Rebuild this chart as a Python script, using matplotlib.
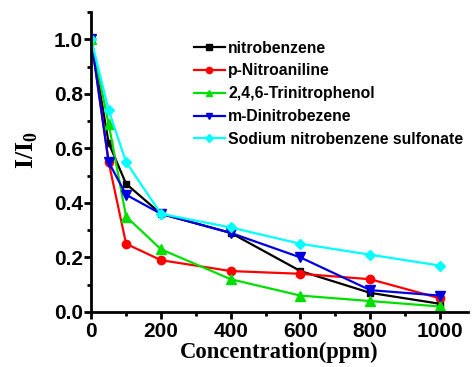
import matplotlib
matplotlib.use("Agg")
import matplotlib.pyplot as plt
from matplotlib.ticker import MultipleLocator

plt.rcParams['mathtext.fontset'] = 'custom'
plt.rcParams['mathtext.rm'] = 'Liberation Serif:bold'
plt.rcParams['mathtext.bf'] = 'Liberation Serif:bold'

conc = [0, 50, 100, 200, 400, 600, 800, 1000]
nitrobenzene = [1.0, 0.62, 0.47, 0.36, 0.29, 0.15, 0.07, 0.03]
p_nitroaniline = [1.0, 0.55, 0.25, 0.19, 0.15, 0.14, 0.12, 0.05]
tnp = [1.0, 0.69, 0.35, 0.23, 0.12, 0.06, 0.04, 0.02]
m_dnb = [1.0, 0.55, 0.43, 0.36, 0.29, 0.20, 0.08, 0.06]
sodium = [1.0, 0.74, 0.55, 0.36, 0.31, 0.25, 0.21, 0.17]

labels = ["nitrobenzene", "p-Nitroaniline", "2,4,6-Trinitrophenol",
          "m-Dinitrobezene", "Sodium nitrobenzene sulfonate"]
series = [nitrobenzene, p_nitroaniline, tnp, m_dnb, sodium]
colors = ["black", "red", "#00e000", "#0000e0", "cyan"]
markers = ["s", "o", "^", "v", "D"]
msizes = [5, 6, 6.5, 6.5, 5]

fig = plt.figure(figsize=(4.75, 3.67), dpi=100)
ax = fig.add_axes([0.192, 0.150, 0.793, 0.817])

for y, lab, c, m, ms in zip(series, labels, colors, markers, msizes):
    ax.plot(conc, y, color=c, marker=m, markersize=ms, linewidth=1.6, label=lab)

ax.set_xlim(0, 1080)
ax.set_ylim(0, 1.1)
ax.xaxis.set_major_locator(MultipleLocator(200))
ax.xaxis.set_minor_locator(MultipleLocator(100))
ax.yaxis.set_minor_locator(MultipleLocator(0.1))
ax.set_yticks([0, 0.2, 0.4, 0.6, 0.8, 1.0])
ax.set_yticklabels(["0.0", "0.2", "0.4", "0.6", "0.8", "1.0"])

for s in ["top", "right"]:
    ax.spines[s].set_visible(False)
for s in ["left", "bottom"]:
    ax.spines[s].set_linewidth(2)

ax.tick_params(which="major", direction="out", length=5, width=2)
ax.tick_params(which="minor", direction="out", length=3, width=2)
for lbl in ax.get_xticklabels() + ax.get_yticklabels():
    lbl.set_fontfamily("Liberation Sans")
    lbl.set_fontweight("bold")
    lbl.set_fontsize(15)
ax.tick_params(axis="x", pad=2)
ax.tick_params(axis="y", pad=1)

ax.set_xlabel("Concentration(ppm)", fontfamily="Liberation Serif", fontweight="bold",
              fontsize=16.3, labelpad=1)
ax.set_ylabel(r"I/I$_\mathbf{0}$", fontfamily="Liberation Serif", fontweight="bold",
              fontsize=18.5)
ax.yaxis.set_label_coords(-0.135, 0.54)

leg = ax.legend(loc="upper left", bbox_to_anchor=(0.272, 0.905), frameon=False,
                prop={"family": "Liberation Sans", "weight": "bold", "size": 11.3},
                handlelength=2.0, handletextpad=0.2, labelspacing=0.5,
                borderaxespad=0.0, borderpad=0.0, markerscale=0.75)

fig.savefig("out.png", dpi=100)
